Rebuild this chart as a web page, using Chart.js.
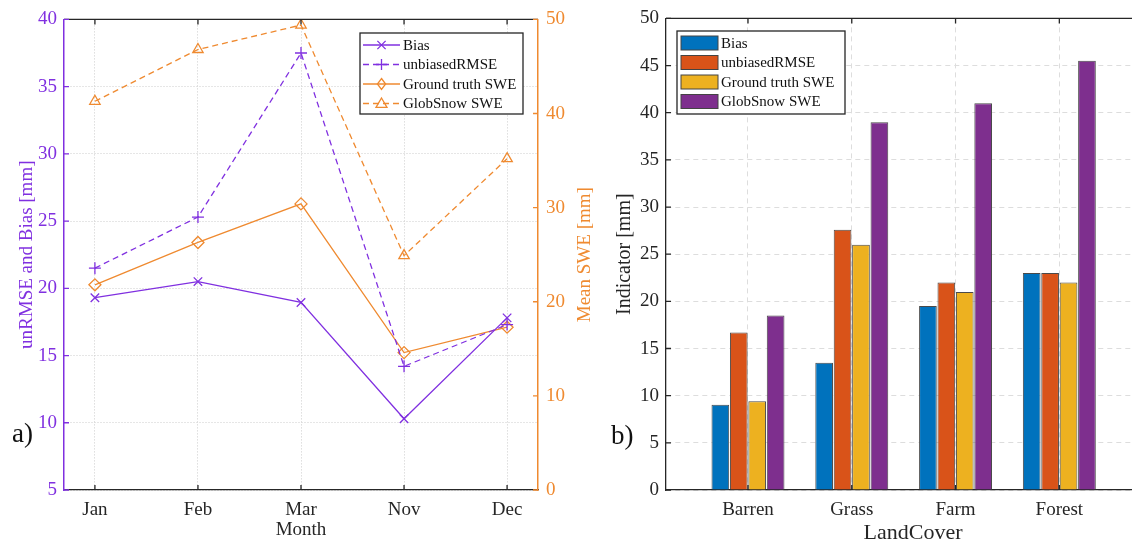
<!DOCTYPE html>
<html>
<head>
<meta charset="utf-8">
<script src="https://cdn.jsdelivr.net/npm/chart.js@4"></script>
<style>
  html, body { margin: 0; padding: 0; background: #fff; }
  body { width: 1132px; height: 539px; position: relative; overflow: hidden; }
  canvas { position: absolute; top: 0; }
  #chart-a { left: 0; }
  #chart-b { left: 600px; }
  .panel-tag { position: absolute; font-family: "Liberation Serif", serif; font-size: 27px; color: #111; }
</style>
</head>
<body>
<canvas id="chart-a" width="600" height="539"></canvas>
<canvas id="chart-b" width="560" height="539"></canvas>
<div class="panel-tag" style="left:12px; top:418px;">a)</div>
<div class="panel-tag" style="left:611px; top:420px;">b)</div>
<script>
// panel a: monthly values
const months = ["Jan", "Feb", "Mar", "Nov", "Dec"];
const bias = [19.3, 20.5, 18.95, 10.3, 17.8];
const unbiasedRmse = [21.5, 25.3, 37.5, 14.2, 17.3];
const groundTruthSwe = [21.8, 26.3, 30.4, 14.6, 17.3];
const globSnowSwe = [41.3, 46.8, 49.4, 24.9, 35.2];
const leftTicks = [5, 10, 15, 20, 25, 30, 35, 40];
const rightTicks = [0, 10, 20, 30, 40, 50];

// panel b: per land cover
const landCover = ["Barren", "Grass", "Farm", "Forest"];
const barBias = [9.05, 13.5, 19.5, 23];
const barRmse = [16.7, 27.6, 22, 23];
const barGroundTruth = [9.4, 26, 21, 22];
const barGlobSnow = [18.5, 39, 41, 45.5];

const purple = "#8030e0";
const orange = "#ef8a30";
const ink = "#262626";
const serif = "'Liberation Serif', 'Times New Roman', serif";

function points(values) {
  return values.map((v, i) => ({ x: i, y: v }));
}

function drawMarker(ctx, style, x, y, r) {
  ctx.beginPath();
  if (style === "crossRot") {
    ctx.moveTo(x - r * 0.75, y - r * 0.75); ctx.lineTo(x + r * 0.75, y + r * 0.75);
    ctx.moveTo(x - r * 0.75, y + r * 0.75); ctx.lineTo(x + r * 0.75, y - r * 0.75);
  } else if (style === "cross") {
    ctx.moveTo(x - r, y); ctx.lineTo(x + r, y);
    ctx.moveTo(x, y - r); ctx.lineTo(x, y + r);
  } else if (style === "rectRot") {
    ctx.moveTo(x, y - r); ctx.lineTo(x + r * 0.75, y); ctx.lineTo(x, y + r); ctx.lineTo(x - r * 0.75, y);
    ctx.closePath();
  } else if (style === "triangle") {
    ctx.moveTo(x, y - r); ctx.lineTo(x + r, y + r * 0.7); ctx.lineTo(x - r, y + r * 0.7);
    ctx.closePath();
  }
  ctx.stroke();
}

// box border on top + ticks pointing into the plot
const framePlugin = {
  id: "frame",
  afterDraw(chart, args, opts) {
    const { ctx, chartArea: a } = chart;
    ctx.save();
    ctx.lineWidth = 1.3;
    ctx.strokeStyle = ink;
    ctx.beginPath();
    ctx.moveTo(a.left, a.top);
    ctx.lineTo(a.right, a.top);
    ctx.stroke();
    for (const t of opts.ticks) {
      const scale = chart.scales[t.id];
      ctx.strokeStyle = t.color;
      ctx.beginPath();
      for (const tick of scale.ticks) {
        const p = scale.getPixelForValue(tick.value);
        if (t.side === "x") {
          ctx.moveTo(p, a.bottom); ctx.lineTo(p, a.bottom - 5);
          ctx.moveTo(p, a.top); ctx.lineTo(p, a.top + 5);
        } else if (t.side === "left") {
          ctx.moveTo(a.left, p); ctx.lineTo(a.left + 5, p);
        } else {
          ctx.moveTo(a.right, p); ctx.lineTo(a.right - 5, p);
        }
      }
      ctx.stroke();
    }
    // right axis title, read bottom to top like the left one
    if (opts.sideTitle) {
      const st = opts.sideTitle;
      ctx.translate(st.x, (a.top + a.bottom) / 2);
      ctx.rotate(-Math.PI / 2);
      ctx.fillStyle = st.color;
      ctx.font = st.size + "px " + serif;
      ctx.textAlign = "center";
      ctx.textBaseline = "middle";
      ctx.fillText(st.text, 0, 0);
    }
    ctx.restore();
  },
};

// legend drawn inside the axes, MATLAB style
const boxLegendPlugin = {
  id: "boxLegend",
  afterDraw(chart, args, opts) {
    const { ctx } = chart;
    const { x, y, w, h, rowH, sampleW, textX } = opts;
    ctx.save();
    ctx.fillStyle = "#fff";
    ctx.fillRect(x, y, w, h);
    ctx.strokeStyle = ink;
    ctx.lineWidth = 1.3;
    ctx.strokeRect(x, y, w, h);
    ctx.font = "15px " + serif;
    ctx.textBaseline = "middle";
    chart.data.datasets.forEach((ds, i) => {
      const cy = y + 12 + i * rowH;
      if (opts.kind === "bar") {
        ctx.fillStyle = ds.backgroundColor;
        ctx.fillRect(x + 4, cy - 7, sampleW, 14);
        ctx.strokeStyle = "#444";
        ctx.lineWidth = 1;
        ctx.strokeRect(x + 4, cy - 7, sampleW, 14);
      } else {
        ctx.strokeStyle = ds.borderColor;
        ctx.lineWidth = 1.3;
        ctx.setLineDash(ds.borderDash || []);
        ctx.beginPath();
        ctx.moveTo(x + 3, cy);
        ctx.lineTo(x + 3 + sampleW, cy);
        ctx.stroke();
        ctx.setLineDash([]);
        drawMarker(ctx, ds.pointStyle, x + 3 + sampleW / 2, cy, 5.5);
      }
      ctx.fillStyle = "#111";
      ctx.fillText(ds.label, x + textX, cy + 1);
    });
    ctx.restore();
  },
};

function lineSet(label, data, color, dash, style, axis) {
  return {
    label,
    data: points(data),
    yAxisID: axis,
    borderColor: color,
    backgroundColor: color,
    borderWidth: 1.3,
    borderDash: dash,
    pointStyle: style,
    pointRadius: 6,
    pointBorderWidth: 1.3,
    pointBorderColor: color,
    pointBackgroundColor: "rgba(0,0,0,0)",
    tension: 0,
  };
}

new Chart(document.getElementById("chart-a"), {
  type: "line",
  data: {
    datasets: [
      lineSet("Bias", bias, purple, [], "crossRot", "y"),
      lineSet("unbiasedRMSE", unbiasedRmse, purple, [6, 4], "cross", "y"),
      lineSet("Ground truth SWE", groundTruthSwe, orange, [], "rectRot", "y1"),
      lineSet("GlobSnow SWE", globSnowSwe, orange, [6, 4], "triangle", "y1"),
    ],
  },
  options: {
    responsive: false,
    animation: false,
    devicePixelRatio: 1,
    layout: { padding: { top: 18, left: 0, right: 0, bottom: 0 } },
    plugins: {
      legend: { display: false },
      tooltip: { enabled: false },
      frame: {
        ticks: [
          { id: "x", side: "x", color: ink },
          { id: "y", side: "left", color: purple },
          { id: "y1", side: "right", color: orange },
        ],
        sideTitle: { text: "Mean SWE [mm]", x: 585, color: orange, size: 19 },
      },
      boxLegend: { kind: "line", x: 360, y: 33, w: 163, h: 81, rowH: 19.5, sampleW: 37, textX: 43 },
    },
    scales: {
      x: {
        type: "linear",
        min: -0.3,
        max: 4.3,
        afterBuildTicks: (s) => { s.ticks = months.map((m, i) => ({ value: i })); },
        afterFit: (s) => { s.height = 49; },
        grid: { color: "#cccccc", lineWidth: 1, drawTicks: false },
        border: { color: ink, width: 1.3, dash: [1, 2] },
        ticks: {
          color: ink,
          padding: 9,
          font: { family: serif, size: 19 },
          callback: (v) => months[v] ?? "",
        },
        title: {
          display: true,
          text: "Month",
          color: ink,
          font: { family: serif, size: 19, lineHeight: 1 },
          padding: { top: 0, bottom: -0.5 },
        },
      },
      y: {
        position: "left",
        min: 5,
        max: 40,
        afterBuildTicks: (s) => { s.ticks = leftTicks.map((v) => ({ value: v })); },
        afterFit: (s) => { s.width = 64; },
        grid: { color: "#cccccc", lineWidth: 1, drawTicks: false },
        border: { color: purple, width: 1.5, dash: [1, 2] },
        ticks: { color: purple, padding: 7, font: { family: serif, size: 19 } },
        title: {
          display: true,
          text: "unRMSE and Bias [mm]",
          color: purple,
          font: { family: serif, size: 19 },
          padding: { top: 16, bottom: 0 },
        },
      },
      y1: {
        position: "right",
        min: 0,
        max: 50,
        afterBuildTicks: (s) => { s.ticks = rightTicks.map((v) => ({ value: v })); },
        afterFit: (s) => { s.width = 62; },
        grid: { drawOnChartArea: false, drawTicks: false },
        border: { color: orange, width: 1.5 },
        ticks: { color: orange, padding: 8, font: { family: serif, size: 19 } },
      },
    },
  },
  plugins: [framePlugin, boxLegendPlugin],
});

function barSet(label, data, color) {
  return {
    label,
    data: points(data),
    backgroundColor: color,
    borderColor: "#4a4a4a",
    borderWidth: 1,
    categoryPercentage: 0.71,
    barPercentage: 0.96,
  };
}

new Chart(document.getElementById("chart-b"), {
  type: "bar",
  data: {
    datasets: [
      barSet("Bias", barBias, "#0072bd"),
      barSet("unbiasedRMSE", barRmse, "#d95319"),
      barSet("Ground truth SWE", barGroundTruth, "#edb120"),
      barSet("GlobSnow SWE", barGlobSnow, "#7e2f8e"),
    ],
  },
  options: {
    responsive: false,
    animation: false,
    devicePixelRatio: 1,
    layout: { padding: { top: 18, left: 0, right: 0, bottom: 0 } },
    plugins: {
      legend: { display: false },
      tooltip: { enabled: false },
      frame: {
        ticks: [
          { id: "x", side: "x", color: ink },
          { id: "y", side: "left", color: ink },
        ],
      },
      boxLegend: { kind: "bar", x: 77, y: 31, w: 168, h: 83, rowH: 19.5, sampleW: 37, textX: 44 },
    },
    scales: {
      x: {
        type: "linear",
        offset: false,
        min: -0.79,
        max: 3.97,
        afterBuildTicks: (s) => { s.ticks = landCover.map((c, i) => ({ value: i })); },
        afterFit: (s) => { s.height = 49; },
        grid: { color: "#dddddd", lineWidth: 1, drawTicks: false, offset: false },
        border: { color: ink, width: 1.3, dash: [5, 4] },
        ticks: {
          color: ink,
          padding: 9,
          font: { family: serif, size: 19 },
          callback: (v) => landCover[v] ?? "",
        },
        title: {
          display: true,
          text: "LandCover",
          color: ink,
          font: { family: serif, size: 22, lineHeight: 1 },
          padding: { top: 0, bottom: -5 },
        },
      },
      y: {
        min: 0,
        max: 50,
        ticks: { stepSize: 5, color: ink, padding: 7, font: { family: serif, size: 19 } },
        afterFit: (s) => { s.width = 66; },
        grid: { color: "#dddddd", lineWidth: 1, drawTicks: false },
        border: { color: ink, width: 1.3, dash: [5, 4] },
        title: {
          display: true,
          text: "Indicator [mm]",
          color: ink,
          font: { family: serif, size: 20 },
          padding: { top: 13, bottom: 0 },
        },
      },
    },
  },
  plugins: [framePlugin, boxLegendPlugin],
});
</script>
</body>
</html>
